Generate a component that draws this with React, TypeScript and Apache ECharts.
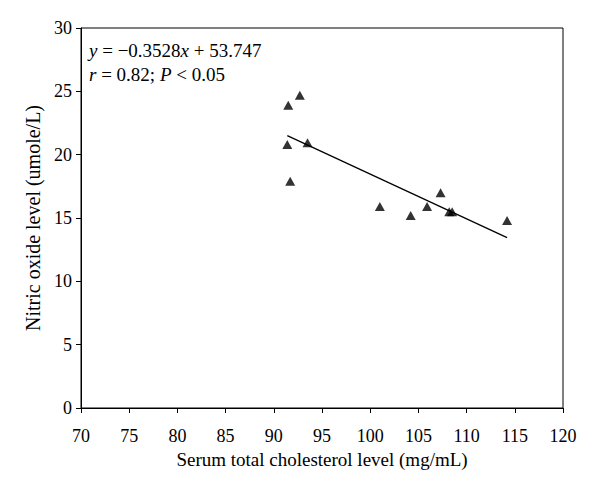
import React, { useEffect, useRef } from "react";
import * as echarts from "echarts";

const cholesterol = [92.7, 91.5, 93.5, 91.4, 91.7, 101.0, 104.2, 105.9, 107.3, 108.2, 108.5, 114.2];
const nitricOxide = [24.7, 23.9, 20.95, 20.8, 17.9, 15.9, 15.2, 15.9, 17.0, 15.5, 15.5, 14.8];
const fitSlope = -0.3528;
const fitIntercept = 53.747;
const fitRange = [91.4, 114.2];
const xTicks = [70, 120, 5];
const yTicks = [0, 30, 5];

const FONT = "'Liberation Serif', 'DejaVu Serif', serif";

export default function App() {
  const ref = useRef<HTMLDivElement>(null);
  useEffect(() => {
    const chart = echarts.init(ref.current!, null, { renderer: "svg" });
    const fitData = fitRange.map((x) => [x, fitSlope * x + fitIntercept]);
    chart.setOption({
      animation: false,
      backgroundColor: "#ffffff",
      grid: { left: 81, right: 37, top: 28, bottom: 82, show: true, borderColor: "#000", borderWidth: 1 },
      xAxis: {
        type: "value",
        min: xTicks[0],
        max: xTicks[1],
        interval: xTicks[2],
        name: "Serum total cholesterol level (mg/mL)",
        nameLocation: "middle",
        nameGap: 41,
        nameTextStyle: { fontFamily: FONT, fontSize: 19, color: "#000" },
        axisLine: { lineStyle: { color: "#000", width: 1 } },
        axisTick: { show: true, length: 5, lineStyle: { color: "#000" } },
        axisLabel: { fontFamily: FONT, fontSize: 18, color: "#000", margin: 19 },
        splitLine: { show: false },
      },
      yAxis: {
        type: "value",
        min: yTicks[0],
        max: yTicks[1],
        interval: yTicks[2],
        name: "Nitric oxide level (umole/L)",
        nameLocation: "middle",
        nameGap: 38,
        nameTextStyle: { fontFamily: FONT, fontSize: 20, color: "#000" },
        axisLine: { show: true, lineStyle: { color: "#000", width: 1 } },
        axisTick: { show: true, length: 5, lineStyle: { color: "#000" } },
        axisLabel: { fontFamily: FONT, fontSize: 18, color: "#000", margin: 9 },
        splitLine: { show: false },
      },
      series: [
        {
          type: "line",
          data: fitData,
          symbol: "none",
          lineStyle: { color: "#000", width: 1.3 },
          silent: true,
          z: 2,
        },
        {
          type: "scatter",
          data: cholesterol.map((x, i) => [x, nitricOxide[i]]),
          symbol: "triangle",
          symbolSize: [10, 9],
          itemStyle: { color: "#000" },
          z: 3,
        },
      ],
      graphic: [
        {
          type: "text",
          left: 89,
          top: 38,
          style: {
            text: "{i|y} = −0.3528{i|x} + 53.747\n{i|r} = 0.82; {i|P} < 0.05",
            fontFamily: FONT,
            fontSize: 19,
            fill: "#000",
            lineHeight: 24,
            rich: {
              i: { fontFamily: FONT, fontSize: 19, fontStyle: "italic", fill: "#000", lineHeight: 24 },
            },
          },
        },
      ],
    });
    return () => chart.dispose();
  }, []);
  return <div ref={ref} style={{ position: "fixed", left: 0, top: 0, width: 600, height: 490 }} />;
}
